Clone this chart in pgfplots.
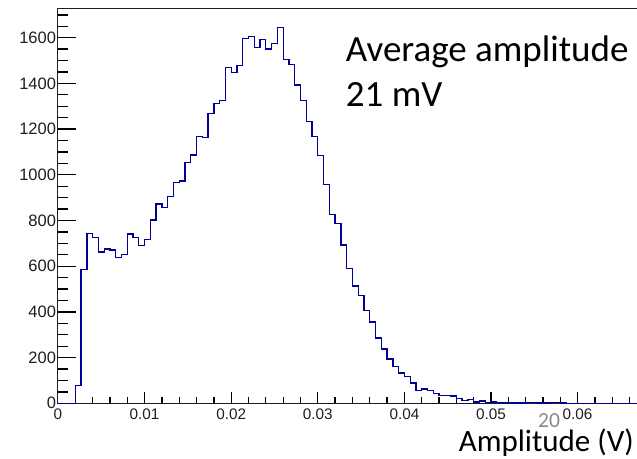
\documentclass[border=0pt]{standalone}
\usepackage{fontspec}
\setmainfont{Liberation Sans}
\newfontfamily\calibri{Carlito}
\usepackage{pgfplots}
\pgfplotsset{compat=1.18}
\usepackage{pgfplotstable}
\definecolor{histblue}{RGB}{0,0,153}
\definecolor{pagegray}{RGB}{137,137,137}
\definecolor{framecol}{RGB}{30,30,30}
\pgfplotstableread{
lo val
0 0
0.002 77
0.002667 586
0.003333 744
0.004 726
0.004667 662
0.005333 675
0.006 671
0.006667 639
0.007333 650
0.008 741
0.008667 726
0.009333 690
0.01 718
0.010667 802
0.011333 872
0.012 858
0.012667 904
0.013333 967
0.014 973
0.014667 1055
0.015333 1087
0.016 1167
0.016667 1164
0.017333 1269
0.018 1313
0.018667 1324
0.019333 1469
0.02 1447
0.020667 1477
0.021333 1596
0.022 1604
0.022667 1558
0.023333 1593
0.024 1550
0.024667 1575
0.025333 1645
0.026 1505
0.026667 1484
0.027333 1393
0.028 1324
0.028667 1232
0.029333 1167
0.03 1083
0.030667 959
0.031333 827
0.032 787
0.032667 693
0.033333 591
0.034 514
0.034667 473
0.035333 405
0.036 356
0.036667 286
0.037333 238
0.038 194
0.038667 160
0.039333 132
0.04 116
0.040667 89
0.041333 56
0.042 62
0.042667 57
0.043333 42
0.044 33
0.044667 33
0.045333 32
0.046 22
0.046667 12
0.047333 16
0.048 6
0.048667 10
0.049333 4
0.05 6
0.050667 3
0.051333 1
0.052 4
0.052667 1
0.053333 1
0.054 2
0.054667 4
0.055333 1
0.056 1
0.056667 2
0.057333 4
0.058 1
0.058667 0
0.0672 0
}\histdata

\begin{document}
\begin{tikzpicture}
\path[use as bounding box] (-58bp,-55.7bp) rectangle (579bp,403.3bp);
\begin{axis}[
  at={(0,0)}, anchor=south west,
  scale only axis, width=582bp, height=394.6bp,
  xmin=0, xmax=0.067207, ymin=0, ymax=1727,
  clip=false,
  axis line style={line width=1bp, draw=framecol},
  scaled x ticks=false, scaled y ticks=false,
  xtick={0,0.01,0.02,0.03,0.04,0.05,0.06},
  xticklabels={0,0.01,0.02,0.03,0.04,0.05,0.06},
  ytick={0,200,400,600,800,1000,1200,1400,1600},
  yticklabels={0,200,400,600,800,1000,1200,1400,1600},
  tick pos=left,
  major tick length=0pt, minor tick length=0pt,
  tick style={draw=none},
  xticklabel style={font=\fontsize{15.3bp}{18bp}\selectfont, yshift=-2.3bp, text=framecol},
  yticklabel style={font=\fontsize{16.5bp}{19bp}\selectfont, xshift=1.5bp, text=framecol},
]
\pgfplotsinvokeforeach{0.01,0.02,0.03,0.04,0.05,0.06}{
  \draw[black, line width=1.3bp] (axis cs:#1,0) -- ++(0,11bp);}
\pgfplotsinvokeforeach{0.002,0.004,0.006,0.008,0.012,0.014,0.016,0.018,0.022,0.024,0.026,0.028,0.032,0.034,0.036,0.038,0.042,0.044,0.046,0.048,0.052,0.054,0.056,0.058,0.062,0.064,0.066}{
  \draw[black, line width=1.3bp] (axis cs:#1,0) -- ++(0,6.5bp);}
\pgfplotsinvokeforeach{200,400,600,800,1000,1200,1400,1600}{
  \draw[black, line width=1.3bp] (axis cs:0,#1) -- ++(18bp,0);}
\pgfplotsinvokeforeach{50,100,150,250,300,350,450,500,550,650,700,750,850,900,950,1050,1100,1150,1250,1300,1350,1450,1500,1550,1650,1700}{
  \draw[black, line width=1.3bp] (axis cs:0,#1) -- ++(10bp,0);}
\addplot[const plot, histblue, line width=1.3bp] table[x=lo,y=val]{\histdata};
\end{axis}
\node[anchor=base west, inner sep=0, font=\calibri\fontsize{37bp}{44bp}\selectfont] at (287.7bp,341.3bp) {Average amplitude};
\node[anchor=base west, inner sep=0, font=\calibri\fontsize{37bp}{44bp}\selectfont] at (287.7bp,296.6bp) {21 mV};
\node[anchor=base east, inner sep=0, font=\calibri\fontsize{31bp}{36bp}\selectfont] at (576bp,-48.4bp) {Amplitude (V)};
\node[anchor=base west, inner sep=0, text=pagegray, font=\calibri\fontsize{21.5bp}{25bp}\selectfont] at (480bp,-23.7bp) {20};
\end{tikzpicture}
\end{document}
